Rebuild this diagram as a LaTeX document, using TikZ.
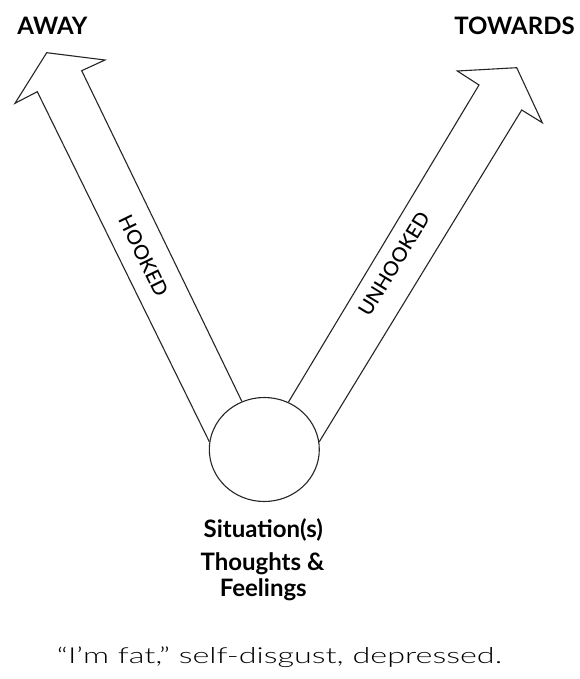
\documentclass[tikz,border=0pt]{standalone}
\usepackage{fontspec}
\usepackage{graphicx}
\setmainfont{Lato}
\newfontfamily\boldfam{Lato Bold}
\newfontfamily\midfam{Lato Medium}
\newfontfamily\handfam{Lato Light}
\usetikzlibrary{shapes.geometric}
\tikzset{
  outline/.style={draw=black!85, line width=1.1pt, line join=miter},
  heading/.style={font=\boldfam\fontsize{24}{26}\selectfont, inner sep=0pt, anchor=base},
  shaftlabel/.style={font=\midfam\fontsize{20}{22}\selectfont, inner sep=0pt},
  caption/.style={font=\boldfam\fontsize{24}{26}\selectfont, inner sep=0pt, anchor=base},
}
\begin{document}
\begin{tikzpicture}[x=1pt,y=-1pt]
\fill[white] (0,0) rectangle (579,679);
\useasboundingbox (0,0) rectangle (579,679);

% central circle
\node[outline, ellipse, minimum width=110pt, minimum height=104pt, inner sep=0pt] (c) at (264.3,449.5) {};

% left (away) arrow
\coordinate (lnl) at (37.3,91.7);
\coordinate (lcl) at (15,103.3);
\coordinate (ltip) at (46.7,52.7);
\coordinate (lcr) at (105,60);
\coordinate (lnr) at (81.7,70.7);
\draw[outline] (c.172) -- (lnl) -- (lcl) -- (ltip) -- (lcr) -- (lnr) -- (c.115.3);

% right (towards) arrow
\coordinate (rnl) at (479,85);
\coordinate (rcl) at (457.3,71);
\coordinate (rtip) at (516.7,67.7);
\coordinate (rcr) at (542.3,122.7);
\coordinate (rnr) at (521.7,110);
\draw[outline] (c.63.9) -- (rnl) -- (rcl) -- (rtip) -- (rcr) -- (rnr) -- (c.8);

% headings
\node[heading] (away) at (52.5,34.5) {AWAY};
\node[heading] (towards) at (514.5,34.5) {TOWARDS};

% shaft labels
\node[shaftlabel, rotate=-64] (hooked) at (143.5,256) {HOOKED};
\node[shaftlabel, rotate=58.5] (unhooked) at (394,264) {UNHOOKED};

% caption under circle
\node[caption] (sit) at (263.3,537) {Situation(s)};
\node[caption] (tho) at (262.5,570) {Thoughts \&};
\node[caption] (fee) at (263.3,596) {Feelings};

% handwritten line
\node[inner sep=0pt, anchor=base, font=\handfam\fontsize{22}{24}\selectfont] (hand) at (279.5,663)
  {\resizebox{445pt}{\height}{“I’m fat,” self-disgust, depressed.}};
\end{tikzpicture}
\end{document}
